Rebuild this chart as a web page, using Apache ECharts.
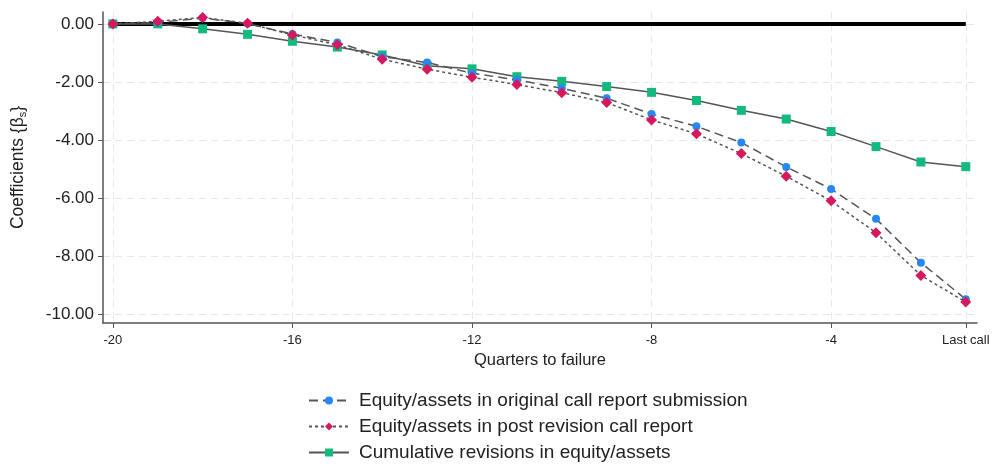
<!DOCTYPE html>
<html><head><meta charset="utf-8">
<script src="https://cdn.jsdelivr.net/npm/echarts@6/dist/echarts.min.js"></script>
<style>html,body{margin:0;padding:0;background:#fff}#c{width:993px;height:464px}</style>
</head><body><div id="c"></div>
<script>
const quarters = [-20,-19,-18,-17,-16,-15,-14,-13,-12,-11,-10,-9,-8,-7,-6,-5,-4,-3,-2,-1];
const original = [0,0.05,0.20,0.01,-0.35,-0.64,-1.13,-1.33,-1.70,-1.93,-2.22,-2.56,-3.11,-3.53,-4.09,-4.93,-5.69,-6.72,-8.23,-9.49];
const revised  = [0,0.09,0.22,0.02,-0.38,-0.72,-1.22,-1.56,-1.84,-2.09,-2.37,-2.71,-3.31,-3.79,-4.47,-5.25,-6.10,-7.20,-8.67,-9.59];
const cumrev   = [0,0,-0.17,-0.36,-0.60,-0.80,-1.07,-1.44,-1.55,-1.82,-1.98,-2.16,-2.36,-2.64,-2.98,-3.28,-3.71,-4.23,-4.76,-4.92];
const xTicks = [-20,-16,-12,-8,-4,-1];
const xTickLabels = {'-20':'-20','-16':'-16','-12':'-12','-8':'-8','-4':'-4','-1':'Last call'};
const yTicks = [0,-2,-4,-6,-8,-10];
const names = ['Equity/assets in original call report submission','Equity/assets in post revision call report','Cumulative revisions in equity/assets'];

const font = 'Liberation Sans, Arial, Helvetica, sans-serif';
const pair = arr => quarters.map((q,i)=>[q,arr[i]]);
const chart = echarts.init(document.getElementById('c'));
chart.setOption({
  animation:false,
  textStyle:{fontFamily:font},
  grid:{left:103,right:16,top:12,bottom:141},
  xAxis:{type:'value',min:-20.22,max:-0.75,
    name:'Quarters to failure',nameLocation:'middle',nameGap:25,
    nameTextStyle:{fontSize:16.5,color:'#222',fontFamily:font},
    axisLine:{show:true,onZero:false,lineStyle:{color:'#555',width:1.5}},
    axisTick:{show:true,length:5,customValues:xTicks,lineStyle:{color:'#555'}},
    axisLabel:{customValues:xTicks,fontSize:13,color:'#222',margin:11,fontFamily:'Liberation Sans Narrow, Liberation Sans, Arial',
      formatter:v=>xTickLabels[String(v)]||''},
    splitLine:{show:true,lineStyle:{color:'#e8e8e8',type:[7,5],width:1}}
  },
  yAxis:{type:'value',min:-10.31,max:0.41,
    name:'Coefficients {β{sub|s}}',nameLocation:'middle',nameGap:75,
    nameTextStyle:{fontSize:17.5,color:'#222',fontFamily:font,rich:{sub:{fontSize:11,verticalAlign:'bottom',padding:[8,0,0,0],color:'#222'}}},
    axisLine:{show:true,onZero:false,lineStyle:{color:'#555',width:1.5}},
    axisTick:{show:true,length:5,customValues:yTicks,lineStyle:{color:'#555'}},
    axisLabel:{customValues:yTicks,fontSize:17,color:'#222',margin:9,formatter:v=>v.toFixed(2)},
    splitLine:{show:true,lineStyle:{color:'#e8e8e8',type:[7,5],width:1}}
  },
  legend:{orient:'vertical',left:308,top:391,height:120,padding:0,itemGap:7,itemWidth:40,itemHeight:10,
    textStyle:{fontSize:19,color:'#222',fontFamily:font,padding:[0,0,0,5]},data:names},
  series:[
    {type:'line',data:[[quarters[0],0],[quarters[quarters.length-1],0]],symbol:'none',
      lineStyle:{color:'#000',width:4},z:1,silent:true},
    {name:names[0],type:'line',data:pair(original),symbol:'circle',symbolSize:8,
      itemStyle:{color:'#2688f5'},lineStyle:{color:'#555',width:1.5,type:[9,5]},z:3},
    {name:names[1],type:'line',data:pair(revised),symbol:'diamond',symbolSize:11,
      itemStyle:{color:'#d6185e'},lineStyle:{color:'#555',width:1.5,type:[3,3]},z:4},
    {name:names[2],type:'line',data:pair(cumrev),symbol:'rect',symbolSize:9,
      itemStyle:{color:'#14ba7d'},lineStyle:{color:'#555',width:1.5},z:2}
  ]
});
</script></body></html>
